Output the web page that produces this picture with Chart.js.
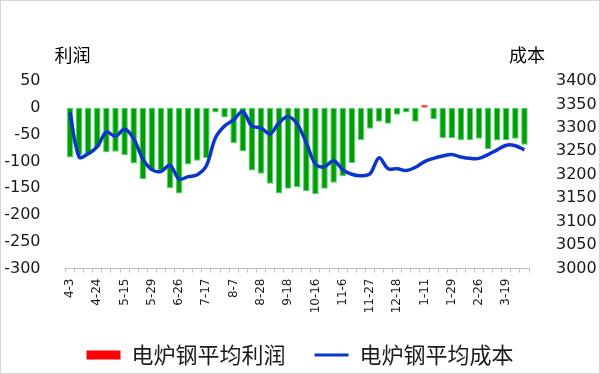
<!DOCTYPE html>
<html>
<head>
<meta charset="utf-8">
<script src="https://cdn.jsdelivr.net/npm/chart.js@4.4.1/dist/chart.umd.min.js"></script>
<style>
  html, body { margin: 0; padding: 0; background: #fff; }
  #wrap { position: relative; width: 600px; height: 374px; }
</style>
</head>
<body>
<div id="wrap"><canvas id="c" width="600" height="374"></canvas></div>
<script>
// ---- data ----
const categories = [
  '4-3','4-10','4-17','4-24','4-30','5-8','5-15','5-19','5-22','5-29',
  '6-5','6-12','6-26','7-3','7-10','7-17','7-24','7-31','8-7','8-14',
  '8-21','8-28','9-4','9-11','9-18','9-25','10-9','10-16','10-23','10-30',
  '11-6','11-13','11-20','11-27','12-4','12-11','12-18','12-25','1-4','1-11',
  '1-17','1-23','1-29','2-12','2-19','2-26','3-5','3-12','3-19','3-26','4-2'
];
const profit = [
  -93,-88,-88,-74,-83,-82,-88,-104,-133,-117,
  -117,-150,-160,-106,-99,-94,-9,-18,-66,-81,
  -117,-123,-142,-160,-151,-148,-156,-161,-151,-140,
  -128,-103,-60,-39,-26,-30,-13,-9,-26,5,
  -21,-57,-57,-60,-60,-58,-77,-61,-60,-58,-69
];
const cost = [
  3333,3238,3245,3260,3291,3282,3297,3277,3234,3211,
  3207,3220,3191,3196,3200,3219,3279,3304,3317,3335,
  3304,3300,3287,3311,3324,3308,3268,3223,3217,3230,
  3211,3201,3198,3202,3236,3213,3213,3209,3216,3228,
  3235,3240,3243,3238,3235,3235,3243,3253,3263,3262,3253
];
const profitTicks = [-300, 50, 50];   // min, max, step
const costTicks = [3000, 3400, 50];   // min, max, step
const seriesNames = ['电炉钢平均利润', '电炉钢平均成本'];
const axisTitles = ['利润', '成本'];

const GREEN = '#009e00';
const RED = '#ff0000';
const BLUE = '#0a35cc';
const TXT = '#1a1a1a';

const extras = {
  id: 'extras',
  afterDraw(chart) {
    const ctx = chart.ctx, a = chart.chartArea;
    ctx.save();
    ctx.font = '18px "Noto Sans CJK SC"';
    ctx.fillStyle = '#000';
    ctx.textBaseline = 'middle';
    ctx.textAlign = 'left';
    ctx.fillText(axisTitles[0], a.left - 11, 55);
    ctx.textAlign = 'right';
    ctx.fillText(axisTitles[1], a.right + 16, 55);
    ctx.strokeStyle = '#d6d6d6';
    ctx.lineWidth = 1;
    ctx.strokeRect(0.5, 0.5, chart.width - 1, chart.height - 1);
    ctx.restore();
  }
};

new Chart(document.getElementById('c'), {
  data: {
    labels: categories,
    datasets: [
      {
        type: 'bar',
        label: seriesNames[0],
        data: profit,
        yAxisID: 'y',
        order: 2,
        backgroundColor: profit.map(v => v >= 0 ? RED : GREEN),
        borderColor: profit.map(v => v >= 0 ? '#ff6060' : '#4fd07a'),
        borderWidth: 1,
        borderSkipped: false,
        barPercentage: 0.72,
        categoryPercentage: 1.0
      },
      {
        type: 'line',
        label: seriesNames[1],
        data: cost,
        yAxisID: 'y1',
        order: 1,
        borderColor: BLUE,
        backgroundColor: BLUE,
        borderWidth: 3.5,
        pointRadius: 0,
        tension: 0.35,
        fill: false
      }
    ]
  },
  options: {
    responsive: false,
    animation: false,
    devicePixelRatio: 1,
    layout: { padding: { top: 81, left: 0, right: 0, bottom: 0 } },
    plugins: {
      tooltip: { enabled: false },
      legend: {
        position: 'bottom',
        maxHeight: 59,
        labels: {
          usePointStyle: true,
          pointStyleWidth: 34,
          boxHeight: 9,
          padding: 29,
          color: TXT,
          font: { family: '"Noto Sans CJK SC"', size: 22 },
          sort: (a, b) => a.datasetIndex - b.datasetIndex,
          generateLabels: (chart) => chart.data.datasets.map((ds, i) => ({
            text: ds.label,
            datasetIndex: i,
            hidden: false,
            fillStyle: i === 0 ? RED : BLUE,
            strokeStyle: i === 0 ? RED : BLUE,
            lineWidth: i === 0 ? 0 : 3,
            pointStyle: i === 0 ? 'rect' : 'line',
            fontColor: TXT
          }))
        }
      }
    },
    scales: {
      x: {
        offset: true,
        grid: { display: true, drawOnChartArea: false, drawTicks: true, tickLength: 4, offset: true, color: '#bfbfbf' },
        border: { display: true, color: '#bfbfbf' },
        ticks: {
          autoSkip: false,
          minRotation: 90,
          maxRotation: 90,
          padding: 6,
          color: TXT,
          font: { family: '"DejaVu Sans"', size: 12 },
          callback: function(v, i) { return i % 3 === 0 ? categories[i] : ''; }
        },
        afterFit: s => { s.height = 46.5; }
      },
      y: {
        position: 'left',
        min: profitTicks[0], max: profitTicks[1],
        grid: { display: false },
        border: { display: false },
        ticks: { stepSize: profitTicks[2], padding: 17, color: TXT, font: { family: '"DejaVu Sans"', size: 16 },
                 callback: v => String(v) },
        afterFit: s => { s.width = 65.5; }
      },
      y1: {
        position: 'right',
        min: costTicks[0], max: costTicks[1],
        grid: { display: false },
        border: { display: false },
        ticks: { stepSize: costTicks[2], padding: 19, color: TXT, font: { family: '"DejaVu Sans"', size: 16 },
                 callback: v => String(v) },
        afterFit: s => { s.width = 71; }
      }
    }
  },
  plugins: [extras]
});
</script>
</body>
</html>
